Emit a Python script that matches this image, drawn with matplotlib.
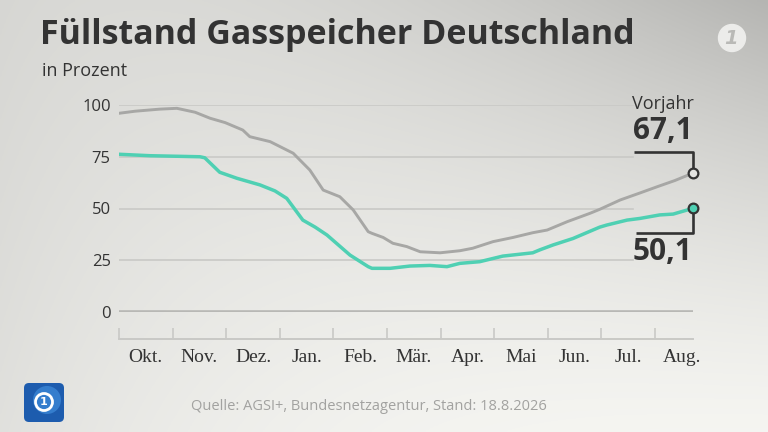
import numpy as np
import matplotlib
matplotlib.use("Agg")
import matplotlib.pyplot as plt
from matplotlib.patches import Circle, FancyBboxPatch
from matplotlib.lines import Line2D

# ---------------- data ----------------
months = ["Okt.", "Nov.", "Dez.", "Jan.", "Feb.", "Mär.", "Apr.", "Mai", "Jun.", "Jul.", "Aug."]
y_ticks = [0, 25, 50, 75, 100]
y_tick_labels = ["0", "25", "50", "75", "100"]

# x = months since 1 Oct (fractional)
prev_x = [0.0, 0.30, 0.76, 1.08, 1.42, 1.70, 1.98, 2.31, 2.44, 2.82, 3.25, 3.56, 3.81,
          4.12, 4.37, 4.65, 4.72, 4.93, 5.11, 5.37, 5.62, 5.99, 6.36, 6.60, 6.98, 7.35,
          7.72, 7.99, 8.36, 8.79, 8.97, 9.35, 9.72, 10.04, 10.37, 10.71]
prev_y = [96.0, 97.0, 98.0, 98.4, 96.5, 93.6, 91.5, 87.9, 84.7, 82.3, 76.7, 68.6, 58.9,
          55.7, 49.3, 38.8, 38.0, 36.0, 33.2, 31.6, 29.1, 28.6, 29.6, 30.8, 34.0, 36.0,
          38.3, 39.6, 43.6, 47.7, 49.6, 54.1, 57.5, 60.5, 63.5, 67.1]

cur_x = [0.0, 0.58, 1.14, 1.51, 1.60, 1.88, 2.20, 2.63, 2.91, 3.13, 3.43, 3.66, 3.88,
         4.31, 4.65, 4.72, 5.06, 5.43, 5.80, 6.12, 6.36, 6.73, 7.16, 7.72, 7.85, 8.10,
         8.47, 8.97, 9.10, 9.48, 9.72, 10.09, 10.34, 10.71]
cur_y = [76.2, 75.5, 75.2, 75.0, 74.5, 67.5, 64.6, 61.4, 58.5, 54.9, 44.4, 41.0, 37.2,
         27.5, 21.9, 21.1, 21.1, 22.2, 22.5, 21.9, 23.5, 24.3, 27.0, 28.6, 30.0, 32.4,
         35.5, 41.0, 42.0, 44.4, 45.2, 46.9, 47.3, 50.1]

title = "Füllstand Gasspeicher Deutschland"
subtitle = "in Prozent"
source = "Quelle: AGSI+, Bundesnetzagentur, Stand: 18.8.2026"
prev_label = "Vorjahr"

# ---------------- figure ----------------
W, H = 768, 432
fig = plt.figure(figsize=(W / 100, H / 100), dpi=100)

def fx(px):
    return px / W

def fy(py):
    return 1 - py / H

# background gradient
bg = fig.add_axes([0, 0, 1, 1], zorder=-10)
xx, yy = np.meshgrid(np.linspace(0, 1, 400), np.linspace(0, 1, 225))
b = 0.96 - 0.21 * (1 - yy) ** 1.5 * xx ** 1.3 - 0.08 * (1 - xx) ** 3 - 0.04 * (1 - yy)
img = np.dstack([b, b, b * 0.985])
bg.imshow(np.clip(img, 0, 1), extent=[0, 1, 0, 1], aspect="auto", origin="upper")
bg.set_axis_off()

dark = "#333333"
grid_c = "#c9c9c6"
teal = "#4fd0b3"
grayl = "#a7a7a5"

# main axes
x_end = 10.71
ax = fig.add_axes([fx(119), fy(312), fx(693) - fx(119), (312 - 105) / H])
ax.set_xlim(0, x_end)
ax.set_ylim(0, 100)
ax.patch.set_alpha(0)
for s in ax.spines.values():
    s.set_visible(False)
ax.set_xticks([])
ax.set_yticks(y_ticks)
ax.set_yticklabels(y_tick_labels, fontsize=12, color=dark, family="Open Sans")
ax.tick_params(axis="y", length=0, pad=6)

grid_end = (633 - 119) / (693 - 119)
for v in y_ticks[1:]:
    ax.axhline(v, xmin=0, xmax=grid_end, color=grid_c, lw=1.2, zorder=1)
ax.axhline(0, color="#b8b8b5", lw=2.6, zorder=1)

ax.plot(prev_x, prev_y, color=grayl, lw=2.1, zorder=3, solid_capstyle="round")
ax.plot(cur_x, cur_y, color=teal, lw=2.5, zorder=4, solid_capstyle="round")

# end markers
ax.plot([prev_x[-1]], [prev_y[-1]], marker="o", ms=7, mfc="#e4e4e1", mec=dark, mew=1.6,
        zorder=6, clip_on=False)
ax.plot([cur_x[-1]], [cur_y[-1]], marker="o", ms=7, mfc=teal, mec=dark, mew=1.6,
        zorder=6, clip_on=False)

# brackets from end points (in pixel offsets)
fig.canvas.draw()
def to_px(xd, yd):
    dx, dy = ax.transData.transform((xd, yd))
    return dx, H - dy

gx, gy = to_px(prev_x[-1], prev_y[-1])
cx, cy = to_px(cur_x[-1], cur_y[-1])
lk = dict(color=dark, lw=1.9, transform=fig.transFigure, solid_capstyle="butt")
fig.add_artist(Line2D([fx(gx), fx(gx), fx(gx - 59)], [fy(gy - 5), fy(gy - 21), fy(gy - 21)], **lk))
fig.add_artist(Line2D([fx(cx), fx(cx), fx(cx - 57)], [fy(cy + 5), fy(cy + 25), fy(cy + 25)], **lk))

fig.text(fx(gx - 30), fy(gy - 69), prev_label, ha="center", va="center", fontsize=13,
         color=dark, family="Open Sans")
fig.text(fx(gx - 30), fy(gy - 42), f"{prev_y[-1]:.1f}".replace(".", ","), ha="center",
         va="center", fontsize=21.5, fontweight="bold", color=dark, family="Open Sans")
fig.text(fx(cx - 30), fy(cy + 44), f"{cur_y[-1]:.1f}".replace(".", ","), ha="center",
         va="center", fontsize=21.5, fontweight="bold", color=dark, family="Open Sans")

# month axis row
ax2 = fig.add_axes([fx(119), fy(339), fx(693) - fx(119), 11 / H])
ax2.set_xlim(0, x_end)
ax2.set_ylim(0, 1)
ax2.patch.set_alpha(0)
for k, s in ax2.spines.items():
    s.set_visible(k == "bottom")
ax2.spines["bottom"].set_color(grid_c)
ax2.spines["bottom"].set_linewidth(1.4)
ax2.set_yticks([])
ax2.set_xticks(np.arange(len(months)))
ax2.set_xticklabels([])
ax2.set_xticks(np.arange(len(months)) + 0.5, minor=True)
ax2.set_xticklabels(months, minor=True, fontsize=14, color=dark, family="Liberation Serif")
ax2.tick_params(axis="x", which="major", direction="in", length=8, color=grid_c, width=1.2)
ax2.tick_params(axis="x", which="minor", length=0, pad=7)

# titles
fig.text(fx(40), fy(35), title, ha="left", va="center", fontsize=24.5, fontweight="bold",
         color=dark, family="Open Sans")
fig.text(fx(42), fy(71), subtitle, ha="left", va="center", fontsize=13, color=dark,
         family="Open Sans")
fig.text(fx(191), fy(406), source, ha="left", va="center", fontsize=10.5, color="#a2a2a0",
         family="Open Sans")

# logos
ov = fig.add_axes([0, 0, 1, 1], zorder=20)
ov.set_xlim(0, W)
ov.set_ylim(H, 0)
ov.set_axis_off()
ov.add_patch(Circle((732, 38), 13.5, color="#ececea"))
ov.text(731, 39, "1", ha="center", va="center", fontsize=14, fontweight="bold",
        color="#b9b9b6", style="italic")
ov.add_patch(FancyBboxPatch((24, 383), 40, 39, boxstyle="round,pad=0,rounding_size=5",
                            fc="#1d5cae", ec="none"))
ov.add_patch(Circle((47, 400), 14, fc="#3b86d6", ec="none", alpha=0.8))
ov.add_patch(Circle((44, 402), 8.5, fc="none", ec="white", lw=2))
ov.text(44, 402, "1", ha="center", va="center", fontsize=8, fontweight="bold", color="white")

fig.savefig("out.png", dpi=100)
